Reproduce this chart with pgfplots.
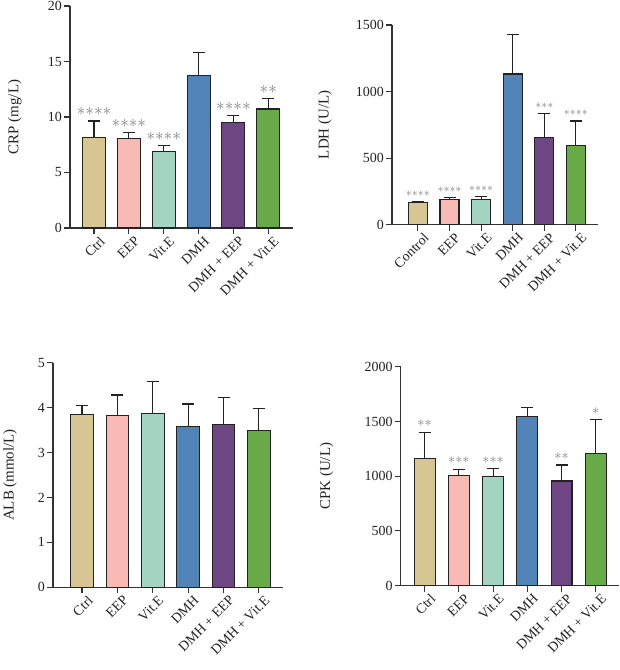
\documentclass[border=0pt]{standalone}
\usepackage{pgfplots}
\pgfplotsset{compat=1.18}
\usepackage{fontspec}
\setmainfont{Liberation Serif}
\definecolor{cA}{HTML}{D8C594}
\definecolor{cB}{HTML}{F9BAB6}
\definecolor{cC}{HTML}{A4D5C3}
\definecolor{cD}{HTML}{5283B7}
\definecolor{cE}{HTML}{6D4683}
\definecolor{cF}{HTML}{68AA47}
\definecolor{bl}{HTML}{222222}
\definecolor{ax}{HTML}{333333}
\definecolor{stc}{HTML}{808080}
\newcommand{\bbar}[4]{\addplot[ybar, bar shift=0pt, fill=#1, draw=bl, line width=1.1bp,
  error bars/.cd, y dir=plus, y explicit,
  error bar style={line width=1.1bp, draw=bl},
  error mark options={rotate=90, line width=1.1bp, mark size=6bp, draw=bl}]
  coordinates {(#2,#3) +- (0,#4)};}
\newcommand{\st}{{\ast}}
\pgfplotsset{
  panel/.style={
    scale only axis, anchor=south west,
    axis lines=left, axis line style={-, line width=1.1bp, draw=ax},
    tick align=outside, major tick length=6bp,
    tick style={line width=1.1bp, draw=ax},
    ymin=0, xtick={0,...,5},
    /pgf/number format/assume math mode=true,
    /pgf/number format/1000 sep={},
    tick label style={font=\fontsize{14}{16}\selectfont, text=bl},
    label style={font=\fontsize{15}{17}\selectfont, text=bl},
    xticklabel style={rotate=45, anchor=north east, inner sep=1.5pt, xshift=4bp, yshift=-3bp},
    yticklabel style={inner sep=2pt},
    clip=false,
  },
  stars/.style={draw=none, mark=none, nodes near coords, point meta=explicit symbolic,
    nodes near coords style={font=\fontsize{#1}{#1}\selectfont, text=stc, anchor=south, inner sep=0pt, yshift=5bp}},
}
\begin{document}
\begin{tikzpicture}
\useasboundingbox (0,0) rectangle (620bp,670bp);
% CRP
\begin{axis}[panel, at={(70bp,442bp)}, width=223bp, height=222bp,
  xmin=-0.69, xmax=5.71, ymax=20, ytick={0,5,...,20}, bar width=0.66,
  xticklabels={Ctrl,EEP,Vit.E,DMH,DMH + EEP,DMH + Vit.E},
  ylabel={CRP (mg/L)}, ylabel style={at={(axis description cs:-0.247,0.5)}, anchor=center}]
\bbar{cA}{0}{8.17}{1.47}
\bbar{cB}{1}{8.08}{0.54}
\bbar{cC}{2}{6.90}{0.55}
\bbar{cD}{3}{13.75}{2.08}
\bbar{cE}{4}{9.49}{0.66}
\bbar{cF}{5}{10.72}{0.96}
\addplot[stars=16] coordinates {(0,9.64) [$\st\st\st\st$] (1,8.62) [$\st\st\st\st$] (2,7.45) [$\st\st\st\st$] (4,10.15) [$\st\st\st\st$] (5,11.68) [$\st\st$]};
\end{axis}
% LDH
\begin{axis}[panel, at={(392bp,445.3bp)}, width=206bp, height=199.7bp,
  xmin=-0.82, xmax=5.70, ymax=1500, ytick={0,500,1000,1500}, bar width=0.6,
  xticklabels={Control,EEP,Vit.E,DMH,DMH + EEP,DMH + Vit.E},
  ylabel={LDH (U/L)}, ylabel style={at={(axis description cs:-0.325,0.5)}, anchor=center}]
\bbar{cA}{0}{168}{5}
\bbar{cB}{1}{190}{13}
\bbar{cC}{2}{190}{20}
\bbar{cD}{3}{1132}{295}
\bbar{cE}{4}{658}{178}
\bbar{cF}{5}{598}{181}
\addplot[stars=12] coordinates {(0,173) [$\st\st\st\st$] (1,203) [$\st\st\st\st$] (2,210) [$\st\st\st\st$] (4,836) [$\st\st\st$] (5,779) [$\st\st\st\st$]};
\end{axis}
% ALB
\begin{axis}[panel, at={(53bp,82.7bp)}, width=230bp, height=224.6bp,
  xmin=-0.82, xmax=5.68, ymax=5, ytick={0,...,5}, bar width=0.64,
  xticklabels={Ctrl,EEP,Vit.E,DMH,DMH + EEP,DMH + Vit.E},
  ylabel={ALB (mmol/L)}, ylabel style={at={(axis description cs:-0.187,0.5)}, anchor=center}]
\bbar{cA}{0}{3.85}{0.19}
\bbar{cB}{1}{3.82}{0.46}
\bbar{cC}{2}{3.87}{0.71}
\bbar{cD}{3}{3.58}{0.50}
\bbar{cE}{4}{3.62}{0.61}
\bbar{cF}{5}{3.50}{0.49}
\end{axis}
% CPK
\begin{axis}[panel, at={(400.7bp,84.3bp)}, width=218bp, height=219bp,
  xmin=-0.70, xmax=5.67, ymax=2000, ytick={0,500,...,2000}, bar width=0.61,
  xticklabels={Ctrl,EEP,Vit.E,DMH,DMH + EEP,DMH + Vit.E},
  ylabel={CPK (U/L)}, ylabel style={at={(axis description cs:-0.34,0.5)}, anchor=center}]
\bbar{cA}{0}{1160}{243}
\bbar{cB}{1}{1008}{57}
\bbar{cC}{2}{998}{70}
\bbar{cD}{3}{1549}{77}
\bbar{cE}{4}{956}{146}
\bbar{cF}{5}{1206}{313}
\addplot[stars=14.5] coordinates {(0,1403) [$\st\st$] (1,1065) [$\st\st\st$] (2,1068) [$\st\st\st$] (4,1102) [$\st\st$] (5,1519) [$\st$]};
\end{axis}
\end{tikzpicture}
\end{document}
